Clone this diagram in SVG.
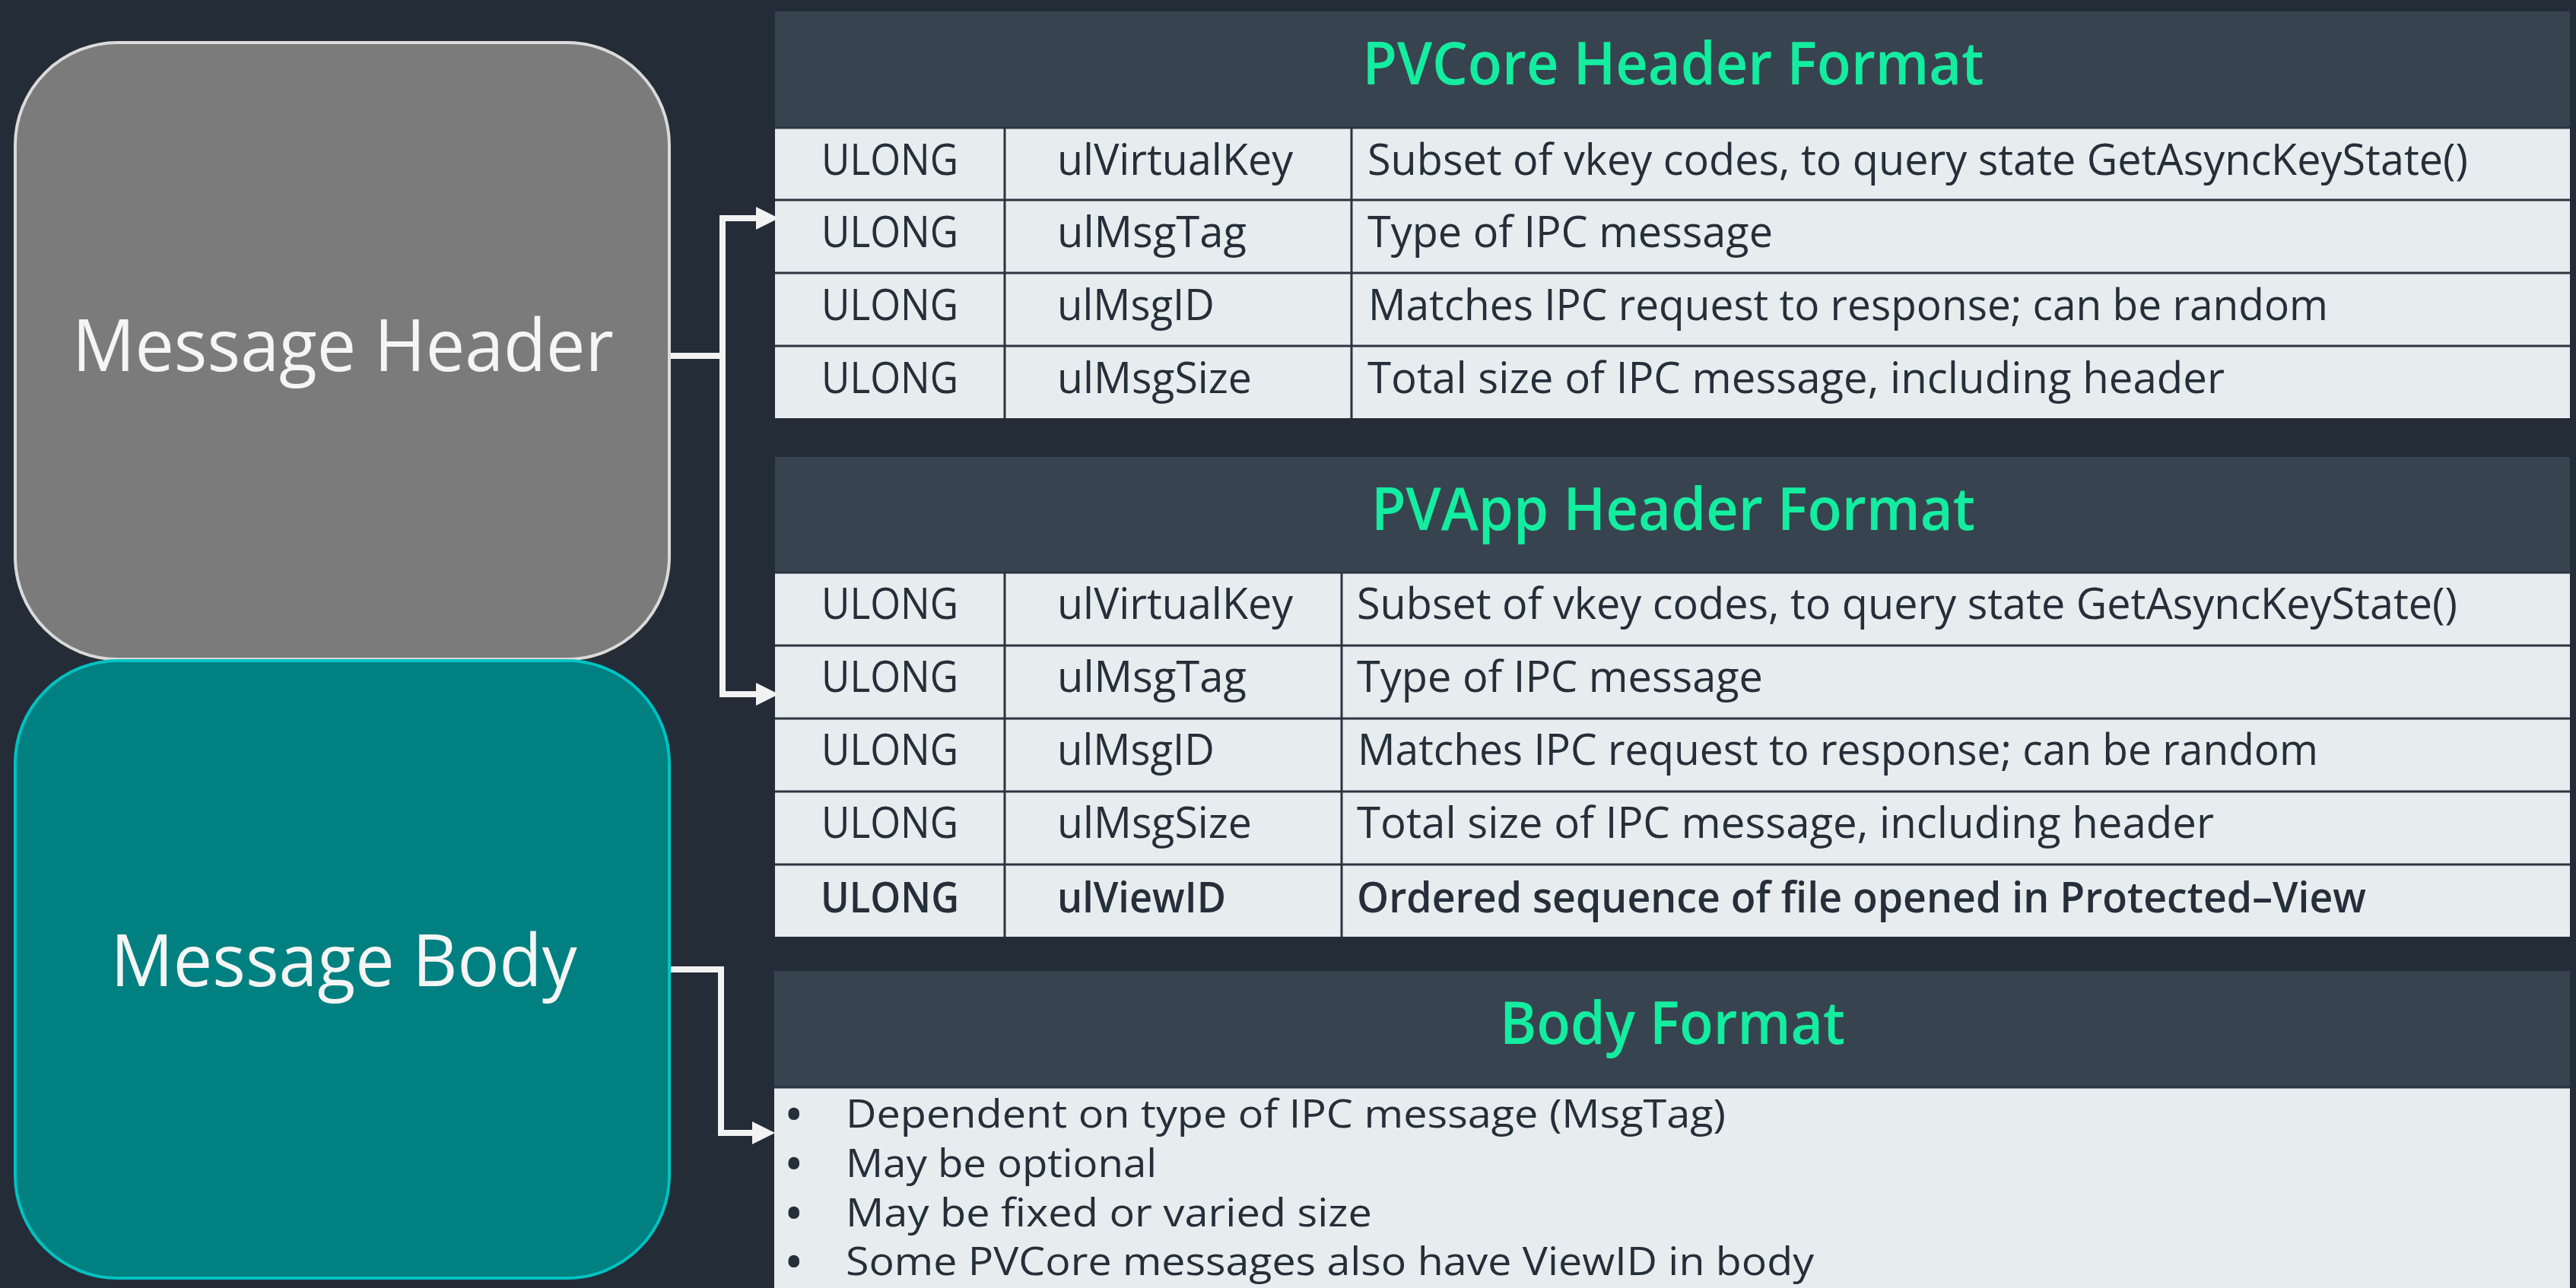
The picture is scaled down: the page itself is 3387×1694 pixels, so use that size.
<svg xmlns="http://www.w3.org/2000/svg" width="3387" height="1694" viewBox="0 0 3387 1694">
<defs>
<style>
.bg{fill:#242d37}
.thead{fill:#37444f}
.tbody{fill:#e7ecee}
.grid{stroke:#2b3540;stroke-width:3;fill:none}
.title{font-family:"Open Sans","Noto Sans",sans-serif;font-size:77px;fill:#14eda0;font-weight:600}
.cell{font-family:"Open Sans","Noto Sans",sans-serif;font-size:56px;fill:#252f39}
.bold{font-weight:600}
.bullet{font-family:"Open Sans","Noto Sans",sans-serif;font-size:52px;fill:#252f39}
.dot{font-family:"Open Sans","Noto Sans",sans-serif;font-size:52px;fill:#252f39;font-weight:700}
.nodetext{font-family:"Open Sans","Noto Sans",sans-serif;font-size:96px;fill:#f5f5f5;text-anchor:middle}
.conn{stroke:#f2f2f2;stroke-width:8;fill:none;stroke-linejoin:miter}
</style>
<marker id="arrow" markerUnits="userSpaceOnUse" markerWidth="32" markerHeight="32" refX="2" refY="15" orient="auto">
<path d="M0,0 L30,15 L0,30 z" fill="#f2f2f2"/>
</marker>
</defs>
<rect class="bg" x="0" y="0" width="3387" height="1694"/>

<g id="node-message-header">
<rect x="20" y="56" width="860" height="811" rx="135" ry="135" fill="#7b7b7b" stroke="#dadada" stroke-width="4"/>
<text class="nodetext" x="451" y="488" textLength="712" lengthAdjust="spacingAndGlyphs">Message Header</text>
</g>

<g id="node-message-body">
<rect x="20" y="869" width="860" height="812" rx="135" ry="135" fill="#008080" stroke="#00c2c2" stroke-width="4"/>
<text class="nodetext" x="452" y="1297" textLength="613" lengthAdjust="spacingAndGlyphs">Message Body</text>
</g>

<g id="node-pvcore-table">
<rect class="thead" x="1019" y="15" width="2360" height="153"/>
<rect class="tbody" x="1019" y="168" width="2360" height="382"/>
<path class="grid" d="M1019 168 H3379 M1019 263 H3379 M1019 359 H3379 M1019 455 H3379 M1321 168 V550 M1777 168 V550"/>
<text class="title" x="2200" y="111" text-anchor="middle" textLength="817" lengthAdjust="spacingAndGlyphs">PVCore Header Format</text>
<text class="cell" x="1170" y="230" text-anchor="middle" textLength="180" lengthAdjust="spacingAndGlyphs">ULONG</text>
<text class="cell" x="1390" y="230" textLength="310" lengthAdjust="spacingAndGlyphs">ulVirtualKey</text>
<text class="cell" x="1798" y="230" textLength="1447" lengthAdjust="spacingAndGlyphs">Subset of vkey codes, to query state GetAsyncKeyState()</text>
<text class="cell" x="1170" y="325" text-anchor="middle" textLength="180" lengthAdjust="spacingAndGlyphs">ULONG</text>
<text class="cell" x="1390" y="325" textLength="249" lengthAdjust="spacingAndGlyphs">ulMsgTag</text>
<text class="cell" x="1798" y="325" textLength="533" lengthAdjust="spacingAndGlyphs">Type of IPC message</text>
<text class="cell" x="1170" y="421" text-anchor="middle" textLength="180" lengthAdjust="spacingAndGlyphs">ULONG</text>
<text class="cell" x="1390" y="421" textLength="207" lengthAdjust="spacingAndGlyphs">ulMsgID</text>
<text class="cell" x="1799" y="421" textLength="1262" lengthAdjust="spacingAndGlyphs">Matches IPC request to response; can be random</text>
<text class="cell" x="1170" y="517" text-anchor="middle" textLength="180" lengthAdjust="spacingAndGlyphs">ULONG</text>
<text class="cell" x="1390" y="517" textLength="256" lengthAdjust="spacingAndGlyphs">ulMsgSize</text>
<text class="cell" x="1798" y="517" textLength="1127" lengthAdjust="spacingAndGlyphs">Total size of IPC message, including header</text>
</g>

<g id="node-pvapp-table">
<rect class="thead" x="1019" y="601" width="2360" height="152"/>
<rect class="tbody" x="1019" y="753" width="2360" height="479"/>
<path class="grid" d="M1019 753 H3379 M1019 849 H3379 M1019 945 H3379 M1019 1041 H3379 M1019 1137 H3379 M1321 753 V1232 M1764 753 V1232"/>
<text class="title" x="2200" y="697" text-anchor="middle" textLength="794" lengthAdjust="spacingAndGlyphs">PVApp Header Format</text>
<text class="cell" x="1170" y="814" text-anchor="middle" textLength="180" lengthAdjust="spacingAndGlyphs">ULONG</text>
<text class="cell" x="1390" y="814" textLength="310" lengthAdjust="spacingAndGlyphs">ulVirtualKey</text>
<text class="cell" x="1784" y="814" textLength="1447" lengthAdjust="spacingAndGlyphs">Subset of vkey codes, to query state GetAsyncKeyState()</text>
<text class="cell" x="1170" y="910" text-anchor="middle" textLength="180" lengthAdjust="spacingAndGlyphs">ULONG</text>
<text class="cell" x="1390" y="910" textLength="249" lengthAdjust="spacingAndGlyphs">ulMsgTag</text>
<text class="cell" x="1784" y="910" textLength="534" lengthAdjust="spacingAndGlyphs">Type of IPC message</text>
<text class="cell" x="1170" y="1006" text-anchor="middle" textLength="180" lengthAdjust="spacingAndGlyphs">ULONG</text>
<text class="cell" x="1390" y="1006" textLength="207" lengthAdjust="spacingAndGlyphs">ulMsgID</text>
<text class="cell" x="1785" y="1006" textLength="1263" lengthAdjust="spacingAndGlyphs">Matches IPC request to response; can be random</text>
<text class="cell" x="1170" y="1102" text-anchor="middle" textLength="180" lengthAdjust="spacingAndGlyphs">ULONG</text>
<text class="cell" x="1390" y="1102" textLength="256" lengthAdjust="spacingAndGlyphs">ulMsgSize</text>
<text class="cell" x="1784" y="1102" textLength="1127" lengthAdjust="spacingAndGlyphs">Total size of IPC message, including header</text>
<text class="cell bold" x="1170" y="1200" text-anchor="middle" textLength="182" lengthAdjust="spacingAndGlyphs">ULONG</text>
<text class="cell bold" x="1390" y="1200" textLength="222" lengthAdjust="spacingAndGlyphs">ulViewID</text>
<text class="cell bold" x="1784" y="1200" textLength="1327" lengthAdjust="spacingAndGlyphs">Ordered sequence of file opened in Protected–View</text>
</g>

<g id="node-body-format">
<rect class="thead" x="1018" y="1277" width="2361" height="153"/>
<rect class="tbody" x="1018" y="1430" width="2361" height="264"/>
<path class="grid" d="M1018 1430 H3379"/>
<text class="title" x="2199" y="1373" text-anchor="middle" textLength="454" lengthAdjust="spacingAndGlyphs">Body Format</text>
<text class="dot" x="1034" y="1484">•</text>
<text class="bullet" x="1112" y="1483" textLength="1157" lengthAdjust="spacingAndGlyphs">Dependent on type of IPC message (MsgTag)</text>
<text class="dot" x="1034" y="1549">•</text>
<text class="bullet" x="1112" y="1548" textLength="409" lengthAdjust="spacingAndGlyphs">May be optional</text>
<text class="dot" x="1034" y="1614">•</text>
<text class="bullet" x="1112" y="1613" textLength="692" lengthAdjust="spacingAndGlyphs">May be fixed or varied size</text>
<text class="dot" x="1034" y="1678">•</text>
<text class="bullet" x="1112" y="1677" textLength="1273" lengthAdjust="spacingAndGlyphs">Some PVCore messages also have ViewID in body</text>
</g>

<g id="connectors">
<path class="conn" d="M882 468 H950 V287 H996" marker-end="url(#arrow)"/>
<path class="conn" d="M950 468 V913 H996" marker-end="url(#arrow)"/>
<path class="conn" d="M882 1275 H948 V1490 H991" marker-end="url(#arrow)"/>
</g>
</svg>
